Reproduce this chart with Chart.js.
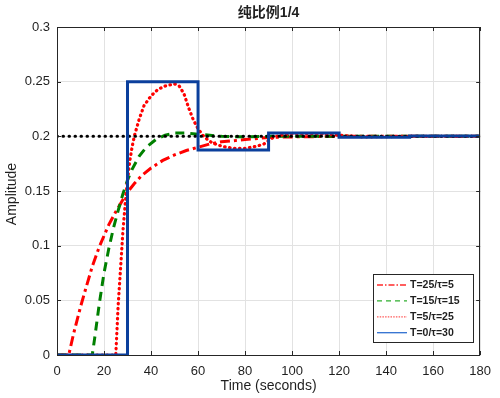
<!DOCTYPE html>
<html>
<head>
<meta charset="utf-8">
<script src="https://cdn.jsdelivr.net/npm/chart.js@4.4.0/dist/chart.umd.min.js"></script>
<style>
    html, body { margin: 0; padding: 0; background: #fff; }
    #wrap { width: 500px; height: 398px; }
</style>
</head>
<body>
<div id="wrap"><canvas id="chart" width="500" height="398"></canvas></div>
<script>
// values
const xTicks = [0, 20, 40, 60, 80, 100, 120, 140, 160, 180];
const yTicks = [0, 0.05, 0.1, 0.15, 0.2, 0.25, 0.3];
const yTickLabels = ['0', '0.05', '0.1', '0.15', '0.2', '0.25', '0.3'];

const seriesNames = ['T=25/\u03c4=5', 'T=15/\u03c4=15', 'T=5/\u03c4=25', 'T=0/\u03c4=30'];

// T=25 / tau=5  (red dash-dot)
const tA = [0, 5, 7, 10, 12, 15, 18, 20, 22, 25, 28, 30, 33, 36, 40, 45, 50, 55, 60, 65, 70, 80, 90, 100, 120, 180];
const yA = [0, 0, 0.019, 0.044, 0.059, 0.081, 0.099, 0.109, 0.119, 0.131, 0.142, 0.149, 0.157, 0.164, 0.171, 0.178, 0.183, 0.187, 0.190, 0.193, 0.195, 0.197, 0.199, 0.1995, 0.2, 0.2];

// T=15 / tau=15  (green dashed)
const tB = [0, 15, 16, 18, 20, 22, 24, 26, 28, 30, 32, 35, 38, 42, 46, 50, 55, 60, 65, 70, 80, 90, 180];
const yB = [0, 0, 0.015, 0.047, 0.075, 0.097, 0.116, 0.132, 0.147, 0.160, 0.170, 0.182, 0.190, 0.197, 0.201, 0.203, 0.203, 0.202, 0.201, 0.200, 0.1995, 0.2, 0.2];

// T=5 / tau=25  (red dotted)
const tC = [0, 25, 26, 27, 28, 29, 30, 31, 32, 33, 35, 37, 40, 43, 46, 50, 52, 54, 56, 58, 60, 62, 64, 66, 70, 75, 80, 85, 88, 90, 92, 95, 100, 110, 120, 130, 140, 150, 180];
const yC = [0, 0, 0.045, 0.078, 0.112, 0.138, 0.160, 0.178, 0.191, 0.201, 0.216, 0.228, 0.237, 0.243, 0.246, 0.248, 0.246, 0.239, 0.226, 0.215, 0.207, 0.201, 0.197, 0.194, 0.191, 0.189, 0.189, 0.191, 0.193, 0.196, 0.199, 0.201, 0.2025, 0.2025, 0.201, 0.1995, 0.1997, 0.2, 0.2];

// T=0 / tau=30  (blue solid, steps)
const tD = [0, 30, 30, 60, 60, 90, 90, 120, 120, 150, 150, 180];
const yD = [0, 0, 0.25, 0.25, 0.1875, 0.1875, 0.2031, 0.2031, 0.1992, 0.1992, 0.2002, 0.2002];

// reference level (black dotted)
const tRef = [0, 180];
const yRef = [0.2, 0.2];

const FONT = "'Liberation Sans', Arial, 'Noto Sans CJK SC', sans-serif";
const INK = '#1f1f1f';

function pts(ts, ys) {
    return ts.map((t, i) => ({ x: t, y: ys[i] }));
}

const legendStyle = [
    { color: '#ff2a2a', dash: [6, 2, 1.5, 2], width: 1.3 },
    { color: '#2fae2f', dash: [5, 4], width: 1.3 },
    { color: '#ff5a5a', dash: [1.5, 1.2], width: 1.3 },
    { color: '#2f6fd0', dash: [], width: 1.3 }
];

const framePlugin = {
    id: 'frame',
    afterDraw(chart) {
        const ctx = chart.ctx;
        const a = chart.chartArea;
        const xs = chart.scales.x, ys = chart.scales.y;
        ctx.save();

        // box and inner ticks
        ctx.strokeStyle = '#262626';
        ctx.lineWidth = 1;
        ctx.strokeRect(Math.round(a.left) + 0.5, Math.round(a.top) + 0.5,
            Math.round(a.right - a.left) - 1, Math.round(a.bottom - a.top));
        ctx.beginPath();
        xTicks.forEach(v => {
            const px = Math.round(xs.getPixelForValue(v)) + 0.5;
            ctx.moveTo(px, a.bottom); ctx.lineTo(px, a.bottom - 4);
            ctx.moveTo(px, a.top); ctx.lineTo(px, a.top + 4);
        });
        yTicks.forEach(v => {
            const py = Math.round(ys.getPixelForValue(v)) + 0.5;
            ctx.moveTo(a.left, py); ctx.lineTo(a.left + 4, py);
            ctx.moveTo(a.right, py); ctx.lineTo(a.right - 4, py);
        });
        ctx.stroke();

        // titles
        ctx.fillStyle = INK;
        ctx.textAlign = 'center';
        ctx.textBaseline = 'middle';
        const cx = (a.left + a.right) / 2;
        ctx.font = "bold 14px " + FONT;
        ctx.fillText('纯比例1/4', cx, 13);
        ctx.font = "14px " + FONT;
        ctx.fillText('Time (seconds)', cx, 386);
        ctx.save();
        ctx.translate(12, (a.top + a.bottom) / 2 + 3);
        ctx.rotate(-Math.PI / 2);
        ctx.fillText('Amplitude', 0, 0);
        ctx.restore();

        // legend
        const lx = 373, ly = 274, lw = 100, lh = 68;
        ctx.fillStyle = '#fff';
        ctx.fillRect(lx, ly, lw, lh);
        ctx.strokeStyle = '#262626';
        ctx.strokeRect(lx + 0.5, ly + 0.5, lw, lh);
        ctx.font = "bold 10.5px " + FONT;
        ctx.textAlign = 'left';
        seriesNames.forEach((name, i) => {
            const yy = 285 + i * 15.9;
            const st = legendStyle[i];
            ctx.strokeStyle = st.color;
            ctx.lineWidth = st.width;
            ctx.setLineDash(st.dash);
            ctx.beginPath();
            ctx.moveTo(377, yy);
            ctx.lineTo(407, yy);
            ctx.stroke();
            ctx.setLineDash([]);
            ctx.fillStyle = INK;
            ctx.fillText(name, 410, yy + 0.5);
        });
        ctx.restore();
    }
};

new Chart(document.getElementById('chart'), {
    type: 'line',
    data: {
        datasets: [
            {
                label: seriesNames[0], data: pts(tA, yA), order: 5,
                borderColor: '#ff0000', borderWidth: 3, borderDash: [10, 4, 3, 4]
            },
            {
                label: seriesNames[1], data: pts(tB, yB), order: 4,
                borderColor: '#008000', borderWidth: 3, borderDash: [9, 6]
            },
            {
                label: seriesNames[2], data: pts(tC, yC), order: 3,
                borderColor: '#ff0000', borderWidth: 3.2, borderDash: [0.5, 4.5], borderCapStyle: 'round'
            },
            {
                label: 'ref', data: pts(tRef, yRef), order: 2,
                borderColor: '#000000', borderWidth: 3, borderDash: [0.5, 5.5], borderCapStyle: 'round'
            },
            {
                label: seriesNames[3], data: pts(tD, yD), order: 1,
                borderColor: '#0b3f9c', borderWidth: 3, borderJoinStyle: 'miter'
            }
        ]
    },
    options: {
        responsive: false,
        animation: false,
        elements: { point: { radius: 0 }, line: { tension: 0, fill: false } },
        layout: { padding: { left: 0, top: 27, right: 13, bottom: 0 } },
        plugins: {
            legend: { display: false },
            title: { display: false },
            tooltip: { enabled: false }
        },
        scales: {
            x: {
                type: 'linear', min: 0, max: 180,
                afterBuildTicks: s => { s.ticks = xTicks.map(v => ({ value: v })); },
                ticks: { color: INK, font: { family: FONT, size: 13 }, padding: 9, maxRotation: 0, autoSkip: false },
                grid: { color: '#e2e2e2', drawTicks: false },
                border: { display: false },
                afterFit: s => { s.height = 43; }
            },
            y: {
                type: 'linear', min: 0, max: 0.3,
                afterBuildTicks: s => { s.ticks = yTicks.map(v => ({ value: v })); },
                ticks: {
                    color: INK, font: { family: FONT, size: 13 }, padding: 7,
                    callback: (v) => yTickLabels[yTicks.indexOf(v)] ?? ''
                },
                grid: { color: '#e2e2e2', drawTicks: false },
                border: { display: false },
                afterFit: s => { s.width = 57; }
            }
        }
    },
    plugins: [framePlugin]
});
</script>
</body>
</html>
